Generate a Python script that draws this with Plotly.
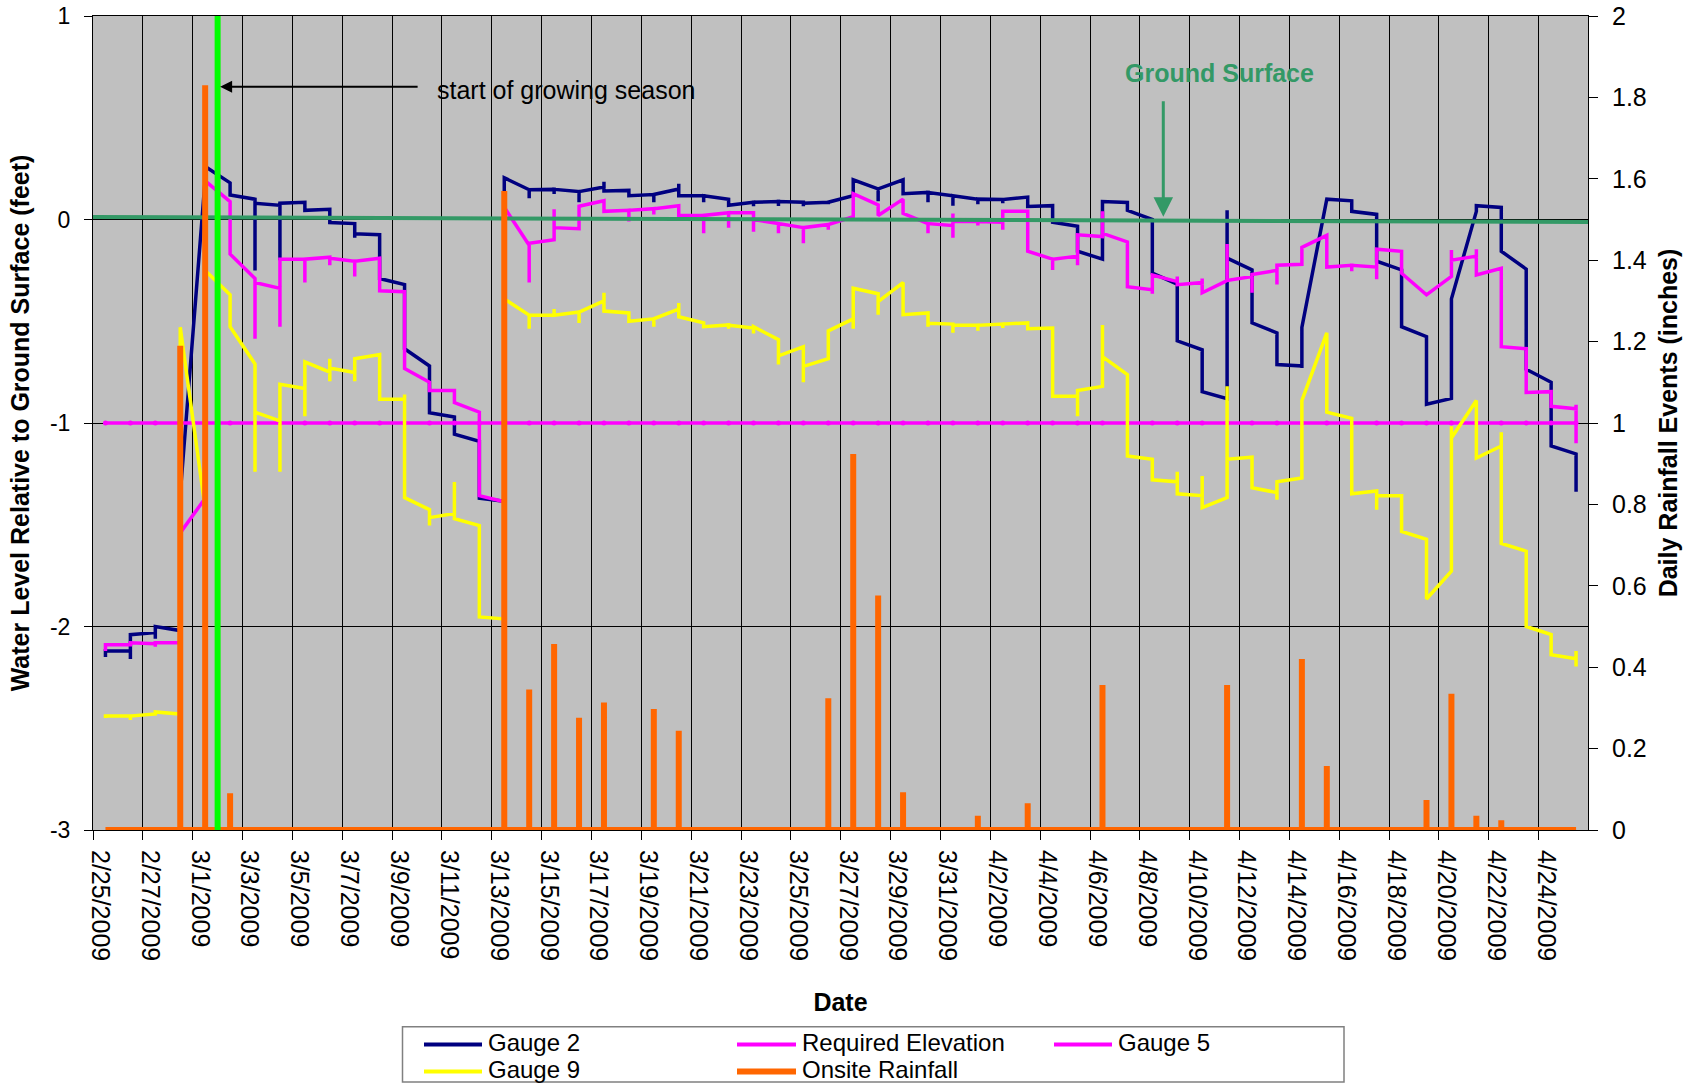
import plotly.graph_objects as go
import pandas as pd

# ---------------- data ----------------
start_date = "2009-02-25"
axis_end = "2009-04-25 23:30"
growing_season_start = "2009-03-02"
ground_surface = [0.012, -0.012]          # ft, at start / end of record

# readings per day (several readings on the same date are plotted at the same x)
gauge2 = [
    [-2.15, -2.12], [-2.12, -2.16, -2.04], [-2.03, -2.06, -2.0], [-2.02, -1.35],
    [0.2, 0.26], [0.18, 0.12], [0.1, -0.25, 0.08], [0.07, -0.2, 0.08],
    [0.085, 0.045], [0.05, -0.015], [-0.02, -0.09, -0.07], [-0.075, -0.29],
    [-0.32, -0.635], [-0.72, -0.95], [-0.97, -1.055], [-1.09, -1.37],
    [-1.385, 0.205], [0.146, 0.105, 0.146], [0.148, 0.125, 0.148], [0.137, 0.085, 0.137],
    [0.16, 0.185, 0.14], [0.143, 0.117], [0.123, 0.085, 0.123], [0.15, 0.176, 0.117],
    [0.117, 0.085, 0.117], [0.1, 0.07], [0.085, 0.065, 0.085], [0.088, 0.066, 0.088],
    [0.085, 0.065, 0.08], [0.085, 0.075, 0.085], [0.117, 0.195], [0.15, 0.09, 0.15],
    [0.195, 0.127], [0.133, 0.085, 0.133], [0.117, 0.068, 0.117], [0.1, 0.075, 0.1],
    [0.098, 0.08, 0.098], [0.11, 0.064], [0.068, -0.014], [-0.033, -0.156],
    [-0.195, 0.088], [0.084, 0.045], [0.0, -0.264], [-0.318, -0.596],
    [-0.64, -0.846], [-0.88, 0.045, -0.19], [-0.248, -0.508], [-0.557, -0.713],
    [-0.72, -0.73, -0.53], [0.1], [0.092, 0.04], [0.025, -0.205],
    [-0.248, -0.527], [-0.576, -0.908], [-0.879, -0.39], [0.04, 0.068],
    [0.059, -0.156], [-0.244, -0.736], [-0.8, -1.113], [-1.152, -1.338],
]

gauge5 = [
    [-2.12, -2.09], [-2.09, -2.08], [-2.085, -2.1, -2.08], [-2.08, -1.54],
    [-1.37, 0.19], [0.088, -0.17], [-0.29, -0.586, -0.31], [-0.338, -0.527, -0.195],
    [-0.195, -0.31, -0.195], [-0.185, -0.225, -0.19], [-0.205, -0.28, -0.205], [-0.19, -0.35],
    [-0.355, -0.732], [-0.8, -0.84], [-0.84, -0.9], [-0.947, -1.357],
    [-1.387, 0.06], [-0.127, -0.31, -0.117], [-0.1, 0.05, -0.04], [-0.045, 0.065],
    [0.092, 0.04], [0.045, -0.01, 0.045], [0.053, 0.025, 0.053], [0.068, 0.02],
    [0.02, -0.068, 0.02], [0.033, -0.04, 0.033], [0.033, -0.06, 0.0], [-0.02, -0.068, -0.02],
    [-0.04, -0.117, -0.04], [-0.025, -0.05, -0.025], [0.014, 0.127], [0.072, 0.02],
    [0.1, 0.03], [-0.02, -0.068, -0.02], [-0.03, -0.09, 0.03, -0.01], [-0.01, -0.03, -0.01],
    [-0.014, -0.05, 0.04], [0.04, -0.156], [-0.195, -0.248, -0.195], [-0.18, -0.225, -0.075],
    [-0.084, 0.04, -0.068], [-0.11, -0.33], [-0.345, -0.365, -0.273], [-0.305, -0.28, -0.32],
    [-0.31, -0.29, -0.36], [-0.3, -0.12, -0.3], [-0.28, -0.36, -0.27], [-0.25, -0.32, -0.225],
    [-0.22, -0.137], [-0.078, -0.234], [-0.225, -0.254, -0.225], [-0.234, -0.293, -0.146],
    [-0.156, -0.264], [-0.37], [-0.28, -0.15, -0.2], [-0.18, -0.146, -0.273],
    [-0.24, -0.625], [-0.635, -0.85], [-0.846, -0.918], [-0.93, -0.91, -1.1],
]

gauge9 = [
    [-2.45, -2.44], [-2.44, -2.46, -2.44], [-2.43, -2.42], [-2.43, -0.53],
    [-1.42, -0.25], [-0.37, -0.527], [-0.71, -1.24, -0.947], [-0.99, -1.24, -0.81],
    [-0.83, -0.967, -0.70], [-0.75, -0.684, -0.795, -0.73], [-0.752, -0.795, -0.684], [-0.664, -0.883],
    [-0.883, -0.86, -1.367], [-1.426, -1.504, -1.465], [-1.445, -1.29, -1.47], [-1.504, -1.953],
    [-1.963, -0.39], [-0.47, -0.537, -0.47], [-0.47, -0.44, -0.47], [-0.455, -0.508, -0.455],
    [-0.4, -0.36, -0.45], [-0.459, -0.5], [-0.488, -0.527, -0.488], [-0.44, -0.41, -0.478],
    [-0.508, -0.527], [-0.518, -0.537, -0.52], [-0.533, -0.56, -0.527], [-0.59, -0.713, -0.67],
    [-0.625, -0.8, -0.722], [-0.684, -0.547], [-0.488, -0.537, -0.338], [-0.365, -0.468, -0.404],
    [-0.31, -0.468], [-0.459, -0.527, -0.51], [-0.514, -0.557, -0.518], [-0.52, -0.547, -0.52],
    [-0.514, -0.533, -0.514], [-0.508, -0.537], [-0.533, -0.869], [-0.869, -0.967, -0.84],
    [-0.82, -0.518, -0.674], [-0.762, -1.162], [-1.178, -1.279], [-1.289, -1.24, -1.348],
    [-1.357, -1.26, -1.416], [-1.367, -0.82, -1.178], [-1.168, -1.318], [-1.342, -1.377, -1.289],
    [-1.27, -0.89], [-0.557, -0.947], [-0.977, -1.348], [-1.334, -1.426, -1.357],
    [-1.357, -1.533], [-1.572, -1.865], [-1.728, -1.016, -1.074], [-0.889, -1.172],
    [-1.113, -1.045, -1.592], [-1.63, -2.0], [-2.04, -2.139], [-2.158, -2.12, -2.197],
]

required_elevation = [
    -1.0, -1.0, -1.0, -1.0, -1.0, -1.0, -1.0, -1.0, -1.0, -1.0,
    -1.0, -1.0, -1.0, -1.0, -1.0, -1.0, -1.0, -1.0, -1.0, -1.0,
    -1.0, -1.0, -1.0, -1.0, -1.0, -1.0, -1.0, -1.0, -1.0, -1.0,
    -1.0, -1.0, -1.0, -1.0, -1.0, -1.0, -1.0, -1.0, -1.0, -1.0,
    -1.0, -1.0, -1.0, -1.0, -1.0, -1.0, -1.0, -1.0, -1.0, -1.0,
    -1.0, -1.0, -1.0, -1.0, -1.0, -1.0, -1.0, -1.0, -1.0, -1.0,
]

# daily onsite rainfall (inches), 2/25 .. 4/25
rainfall = [
    0, 0, 0, 1.19, 1.83, 0.09, 0, 0, 0, 0,
    0, 0, 0, 0, 0, 0, 1.57, 0.345, 0.457, 0.276,
    0.313, 0, 0.297, 0.244, 0, 0, 0, 0, 0, 0.324,
    0.924, 0.576, 0.093, 0, 0, 0.035, 0, 0.066, 0, 0,
    0.356, 0, 0, 0, 0, 0.356, 0, 0, 0.42, 0.157,
    0, 0, 0, 0.074, 0.335, 0.035, 0.024, 0, 0, 0,
]

left_tickvals = [-3, -2, -1, 0, 1]
left_ticktext = ["-3", "-2", "-1", "0", "1"]

legend_names = ["Gauge 2", "Required Elevation", "Gauge 5", "Gauge 9", "Onsite Rainfall"]

# ---------------- styling ----------------
C_G2 = "#000080"
C_G5 = "#FF00FF"
C_REQ = "#FF00FF"
C_G9 = "#FFFF00"
C_RAIN = "#FF6600"
C_GROUND = "#339966"
C_GROW = "#00FF00"
FONT = "Liberation Sans, Arial, Helvetica, sans-serif"

W, H = 1696, 1083
ML, MR, MT, MB = 93, 108, 16, 253
PW, PH = W - ML - MR, H - MT - MB

def px_x(px):
    return (px - ML) / PW

def px_y(py):
    return (H - MB - py) / PH

t0 = pd.Timestamp(start_date)
day_x = [t0 + pd.Timedelta(days=d, hours=12) for d in range(len(rainfall))]

def expand(series):
    xs, ys = [], []
    for d, readings in enumerate(series):
        for r in readings:
            xs.append(day_x[d])
            ys.append(r)
    return xs, ys

fig = go.Figure()

gx, gy = expand(gauge2)
fig.add_trace(go.Scatter(x=gx, y=gy, mode="lines", name=legend_names[0],
                         line=dict(color=C_G2, width=3.5)))
fig.add_trace(go.Scatter(x=day_x, y=required_elevation, mode="lines+markers", name=legend_names[1],
                         line=dict(color=C_REQ, width=3.5), marker=dict(size=5, color=C_REQ)))
gx, gy = expand(gauge5)
fig.add_trace(go.Scatter(x=gx, y=gy, mode="lines", name=legend_names[2],
                         line=dict(color=C_G5, width=3.5)))
gx, gy = expand(gauge9)
fig.add_trace(go.Scatter(x=gx, y=gy, mode="lines", name=legend_names[3],
                         line=dict(color=C_G9, width=3.5)))

# ground surface reference line
fig.add_trace(go.Scatter(x=[start_date, axis_end], y=ground_surface, mode="lines",
                         line=dict(color=C_GROUND, width=4), name="Ground Surface",
                         showlegend=False, hoverinfo="skip"))

# rainfall spikes on secondary axis
rx, ry = [], []
for d, v in enumerate(rainfall):
    rx.append(day_x[d]); ry.append(0.0)
    if v > 0:
        rx += [day_x[d], day_x[d]]
        ry += [v, 0.0]
fig.add_trace(go.Scatter(x=rx, y=ry, mode="lines", name=legend_names[4], yaxis="y2",
                         line=dict(color=C_RAIN, width=6)))

fig.update_layout(
    width=W, height=H,
    margin=dict(l=ML, r=MR, t=MT, b=MB),
    plot_bgcolor="#C0C0C0", paper_bgcolor="white",
    showlegend=False,
    font=dict(family=FONT, color="black"),
    xaxis=dict(
        type="date", range=[start_date, axis_end],
        tick0=start_date, dtick=2 * 86400000, tickformat="%-m/%-d/%Y",
        tickangle=90, tickfont=dict(size=25),
        showgrid=True, gridcolor="black", gridwidth=1,
        ticks="outside", ticklen=9, tickcolor="black",
        ticklabelshift=7, ticklabelstandoff=5,
        showline=True, linecolor="black", linewidth=1, mirror=True,
        zeroline=False, automargin=False,
        title=dict(text="<b>Date</b>", font=dict(size=25), standoff=33),
    ),
    yaxis=dict(
        range=[-3, 1], tickmode="array", tickvals=left_tickvals, ticktext=left_ticktext,
        tickfont=dict(size=23),
        showgrid=True, gridcolor="black", gridwidth=1,
        ticks="outside", ticklen=8, tickcolor="black", ticklabelstandoff=9,
        showline=True, linecolor="black", linewidth=1,
        zeroline=False, automargin=False,
        title=dict(text="<b>Water Level Relative to Ground Surface (feet)</b>",
                   font=dict(size=25), standoff=13),
    ),
    yaxis2=dict(
        overlaying="y", side="right", range=[0, 2], dtick=0.2, tick0=0,
        tickfont=dict(size=25), showgrid=False,
        ticks="outside", ticklen=9, tickcolor="black", ticklabelstandoff=9,
        showline=True, linecolor="black", linewidth=1,
        zeroline=False, automargin=False,
        title=dict(text="<b>Daily Rainfall Events (inches)</b>",
                   font=dict(size=25), standoff=13),
    ),
)

# start of growing season line
fig.add_shape(type="line", xref="x", yref="paper", x0=growing_season_start, x1=growing_season_start,
              y0=0, y1=1, line=dict(color=C_GROW, width=6), layer="above")

# annotations
fig.add_annotation(x=t0 + pd.Timedelta(days=5.1), y=0.6526, xref="x", yref="y",
                   text="", showarrow=True, ax=199, ay=0, axref="pixel", ayref="pixel",
                   arrowhead=2, arrowsize=1.2, arrowwidth=2, arrowcolor="black")
fig.add_annotation(x=t0 + pd.Timedelta(days=13.72), y=0.636, xref="x", yref="y",
                   text="start of growing season", showarrow=False,
                   xanchor="left", yanchor="middle", font=dict(size=25, color="black"))
fig.add_annotation(x=t0 + pd.Timedelta(days=42.94), y=0.014, xref="x", yref="y",
                   text="", showarrow=True, ax=0, ay=-117,
                   arrowhead=2, arrowsize=1.3, arrowwidth=3, arrowcolor=C_GROUND)
fig.add_annotation(x=t0 + pd.Timedelta(days=45.18), y=0.7175, xref="x", yref="y",
                   text="<b>Ground Surface</b>", showarrow=False,
                   xanchor="center", yanchor="middle", font=dict(size=25, color=C_GROUND))

# custom legend box
fig.add_shape(type="rect", xref="paper", yref="paper",
              x0=px_x(402.5), x1=px_x(1344), y0=px_y(1082), y1=px_y(1026.7),
              line=dict(color="#808080", width=1.5), fillcolor="white", layer="above")
ROW1, ROW2 = 1042.5, 1069.5
legend_items = [
    (legend_names[0], C_G2, 4, 424, 482, 487, ROW1),
    (legend_names[1], C_REQ, 4, 737, 796, 801, ROW1),
    (legend_names[2], C_G5, 4, 1054, 1112, 1117, ROW1),
    (legend_names[3], C_G9, 4, 424, 482, 487, ROW2),
    (legend_names[4], C_RAIN, 6, 737, 796, 801, ROW2),
]
for name, col, lw, sx0, sx1, tx, yy in legend_items:
    fig.add_shape(type="line", xref="paper", yref="paper",
                  x0=px_x(sx0), x1=px_x(sx1), y0=px_y(yy + 2), y1=px_y(yy + 2),
                  line=dict(color=col, width=lw), layer="above")
    fig.add_annotation(x=px_x(tx), y=px_y(yy), xref="paper", yref="paper",
                       text=name, showarrow=False, xanchor="left", yanchor="middle",
                       borderpad=0, font=dict(size=24, color="black"))

fig.write_html("out.html", config={"displayModeBar": False},
               post_script="document.body.style.margin='0px';document.body.style.overflow='hidden';")
